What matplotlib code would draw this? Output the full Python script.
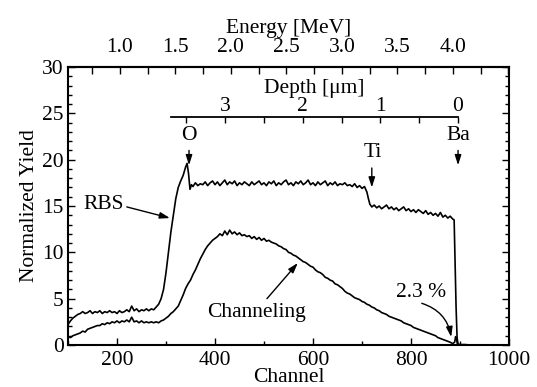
import numpy as np
import matplotlib
matplotlib.use("Agg")
import matplotlib.pyplot as plt
from matplotlib.ticker import MultipleLocator

plt.rcParams['font.family'] = ['Liberation Serif', 'DejaVu Serif']
FS = 15.5

# ---------------- data ----------------
rbs_ch = [100, 105, 110, 115, 120, 125, 130, 135, 140, 145, 150, 155, 160, 165, 170, 175,
          180, 185, 190, 195, 200, 205, 210, 215, 220, 225, 230, 235, 240, 245, 250, 255,
          260, 265, 270, 275, 280, 285, 290, 295, 300, 305, 310, 315, 320, 325, 330, 335,
          340, 343, 346, 349, 352,
          355, 360, 365, 370, 375, 380, 385, 390, 395, 400, 405, 410, 415, 420, 425, 430,
          435, 440, 445, 450, 455, 460, 465, 470, 475, 480, 485, 490, 495, 500, 505, 510,
          515, 520, 525, 530, 535, 540, 545, 550, 555, 560, 565, 570, 575, 580, 585, 590,
          595, 600, 605, 610, 615, 620, 625, 630, 635, 640, 645, 650, 655, 660, 665, 670,
          675, 680, 685, 690, 695, 700, 705, 710, 713, 716, 720,
          725, 730, 735, 740, 745, 750, 755, 760, 765, 770, 775, 780, 785, 790, 795, 800,
          805, 810, 815, 820, 825, 830, 835, 840, 845, 850, 855, 860, 865, 870, 875, 880,
          885, 888, 890, 892, 894, 896, 900, 910, 920]
rbs_y = [2.2, 2.6, 2.9, 3.1, 3.3, 3.4, 3.6, 3.4, 3.5, 3.7, 3.4, 3.6, 3.5, 3.7, 3.4, 3.6,
         3.5, 3.7, 3.5, 3.6, 3.4, 3.7, 3.5, 3.6, 3.8, 3.6, 4.2, 3.7, 3.9, 3.6, 3.8, 3.7,
         3.9, 3.7, 3.9, 3.8, 4.1, 4.4, 5.0, 6.0, 7.8, 10.0, 12.2, 14.0, 15.8, 17.0, 17.7, 18.3,
         19.2, 19.6, 18.5, 16.8, 17.3,
         17.1, 17.5, 17.2, 17.4, 17.3, 17.6, 17.2, 17.5, 17.7, 17.3, 17.6, 17.2, 17.5, 17.8, 17.3, 17.6,
         17.4, 17.7, 17.2, 17.5, 17.3, 17.6, 17.4, 17.2, 17.6, 17.3, 17.5, 17.7, 17.3, 17.5, 17.2, 17.6,
         17.4, 17.7, 17.2, 17.5, 17.3, 17.6, 17.8, 17.3, 17.5, 17.2, 17.6, 17.4, 17.7, 17.3, 17.5, 17.8,
         17.3, 17.5, 17.2, 17.6, 17.3, 17.5, 17.7, 17.2, 17.5, 17.3, 17.6, 17.2, 17.4, 17.3, 17.5, 17.2,
         17.3, 17.1, 17.4, 17.0, 17.2, 16.9, 17.1, 16.5, 15.8, 15.2, 14.9,
         15.1, 14.8, 15.0, 14.7, 14.9, 15.1, 14.7, 14.9, 14.6, 14.8, 14.5, 14.7, 14.9, 14.5, 14.7, 14.4,
         14.6, 14.3, 14.6, 14.4, 14.2, 14.5, 14.1, 14.3, 14.0, 14.2, 13.9, 14.3, 13.8, 14.0, 13.7, 13.9,
         13.6, 13.5, 9.0, 4.0, 0.8, 0.1, 0.05, 0.05, 0.0]

chan_ch = [100, 105, 110, 115, 120, 125, 130, 135, 140, 145, 150, 155, 160, 165, 170, 175,
           180, 185, 190, 195, 200, 205, 210, 215, 220, 225, 230, 235, 240, 245, 250, 255,
           260, 265, 270, 275, 280, 285, 290, 295, 300, 305, 310, 315, 320, 325, 330, 335,
           340, 345, 350, 355, 360, 365, 370, 375, 380, 385, 390, 395, 400, 405, 410, 415,
           420, 425, 430, 435, 440, 445, 450, 455, 460, 465, 470, 475, 480, 485, 490, 495,
           500, 505, 510, 515, 520, 525, 530, 535, 540, 545, 550, 555, 560, 565, 570, 575,
           580, 585, 590, 595, 600, 605, 610, 615, 620, 625, 630, 635, 640, 645, 650, 655,
           660, 665, 670, 675, 680, 685, 690, 695, 700, 705, 710, 715, 720, 725, 730, 735,
           740, 745, 750, 755, 760, 765, 770, 775, 780, 785, 790, 795, 800, 805, 810, 815,
           820, 825, 830, 835, 840, 845, 850, 855, 860, 865, 870, 875, 880, 885, 889, 891,
           893, 895]
chan_y = [0.9, 0.8, 1.0, 1.1, 1.2, 1.3, 1.5, 1.4, 1.7, 1.8, 1.9, 2.0, 2.1, 2.1, 2.3, 2.2,
          2.4, 2.3, 2.5, 2.4, 2.6, 2.4, 2.6, 2.5, 2.7, 2.5, 3.0, 2.5, 2.6, 2.4, 2.6, 2.4,
          2.5, 2.4, 2.5, 2.4, 2.5, 2.4, 2.6, 2.7, 2.9, 3.1, 3.4, 3.6, 3.9, 4.2, 4.8, 5.4,
          6.1, 6.6, 7.0, 7.6, 8.1, 8.7, 9.3, 9.8, 10.3, 10.7, 11.0, 11.3, 11.5, 11.7, 12.0, 11.8,
          12.3, 11.9, 12.4, 12.0, 12.2, 11.9, 12.1, 11.8, 11.9, 11.7, 11.8, 11.5, 11.7, 11.4, 11.6, 11.3,
          11.5, 11.2, 11.3, 11.1, 11.0, 10.9, 10.7, 10.6, 10.4, 10.3, 10.0, 9.9, 9.7, 9.6, 9.4, 9.2,
          9.0, 8.9, 8.7, 8.5, 8.4, 8.1, 7.9, 7.8, 7.6, 7.3, 7.2, 7.0, 6.9, 6.6, 6.5, 6.3,
          6.1, 5.8, 5.6, 5.5, 5.3, 5.1, 5.0, 4.9, 4.7, 4.6, 4.4, 4.3, 4.1, 4.0, 3.8, 3.7,
          3.5, 3.4, 3.3, 3.1, 3.0, 2.9, 2.8, 2.7, 2.6, 2.4, 2.3, 2.2, 2.1, 1.9, 1.8, 1.7,
          1.6, 1.5, 1.4, 1.3, 1.2, 1.1, 1.0, 0.8, 0.7, 0.6, 0.5, 0.4, 0.3, 0.15, 0.3, 0.9,
          0.6, 0.0]

x_ticks = [200, 400, 600, 800, 1000]
y_ticks = [0, 5, 10, 15, 20, 25, 30]
energy_ticks = [1.0, 1.5, 2.0, 2.5, 3.0, 3.5, 4.0]
depth_ticks = [0, 1, 2, 3]

# channel <-> energy / depth calibrations
E_ch0, E_per = 206.0, 226.5      # channel of 1.0 MeV, channels per MeV
D_ch0, D_per = 896.0, 158.5      # channel of depth 0, channels per um


def ch2E(c):
    return 1.0 + (np.asarray(c, dtype=float) - E_ch0) / E_per


def E2ch(e):
    return E_ch0 + (np.asarray(e, dtype=float) - 1.0) * E_per


# ---------------- figure ----------------
fig = plt.figure(figsize=(5.37, 3.87), dpi=100)
ax = fig.add_axes([0.1266, 0.1085, 0.8213, 0.7184])

ax.plot(rbs_ch, rbs_y, color='black', lw=1.2)
ax.plot(chan_ch, chan_y, color='black', lw=1.2)

ax.set_xlim(100, 1000)
ax.set_ylim(0, 30)
ax.set_xticks(x_ticks)
ax.set_yticks(y_ticks)
ax.xaxis.set_minor_locator(MultipleLocator(100))
ax.yaxis.set_minor_locator(MultipleLocator(1))
ax.tick_params(which='both', direction='in', top=False, right=True, labelsize=FS, width=1.0)
ax.tick_params(axis='x', which='major', length=5, pad=4)
ax.tick_params(axis='y', which='major', length=5, pad=3)
ax.tick_params(which='minor', length=3)
for s in ax.spines.values():
    s.set_linewidth(1.5)

ax.set_xlabel('Channel', fontsize=FS, labelpad=-1)
ax.set_ylabel('Normalized Yield', fontsize=FS, labelpad=2)

# top energy axis
sec = ax.secondary_xaxis('top', functions=(ch2E, E2ch))
sec.set_xticks(energy_ticks)
sec.set_xticklabels([f'{e:.1f}' for e in energy_ticks])
sec.xaxis.set_minor_locator(MultipleLocator(0.25))
sec.tick_params(which='both', direction='in', labelsize=FS, width=1.0, pad=7)
sec.tick_params(which='major', length=5)
sec.tick_params(which='minor', length=5)
sec.spines['top'].set_linewidth(1.5)
sec.set_xlabel('Energy [MeV]', fontsize=FS, labelpad=4)

# depth axis inside the plot
y_line = 24.55
d_left = (D_ch0 - 310.0) / D_per
dax = ax.inset_axes([310.0, y_line - 1.0, D_ch0 - 310.0, 1.0], transform=ax.transData)
dax.patch.set_visible(False)
for k in ['left', 'right', 'bottom']:
    dax.spines[k].set_visible(False)
dax.spines['top'].set_linewidth(1.3)
dax.set_xlim(d_left, 0)
dax.set_yticks([])
dax.xaxis.set_ticks_position('top')
dax.xaxis.set_label_position('top')
dax.set_xticks(depth_ticks)
dax.set_xticklabels([str(d) for d in depth_ticks])
dax.xaxis.set_minor_locator(MultipleLocator(0.5))
dax.tick_params(which='both', direction='in', labelsize=FS, width=1.0, pad=1)
dax.tick_params(which='major', length=4)
dax.tick_params(which='minor', length=4)
dax.set_xlabel('Depth [\u03bcm]', fontsize=FS, labelpad=3)

# element labels and arrows
arrow_kw = dict(arrowstyle='-|>,head_length=0.5,head_width=0.16', color='black',
                lw=1.0, shrinkA=0, shrinkB=0, mutation_scale=12)
ax.text(347, 22.65, 'O', fontsize=FS, ha='center', va='center')
ax.annotate('', xy=(347, 19.4), xytext=(347, 21.0), arrowprops=arrow_kw)
ax.text(722, 20.8, 'Ti', fontsize=FS, ha='center', va='center')
ax.annotate('', xy=(720, 17.0), xytext=(720, 19.1), arrowprops=arrow_kw)
ax.text(896, 22.65, 'Ba', fontsize=FS, ha='center', va='center')
ax.annotate('', xy=(896, 19.4), xytext=(896, 21.0), arrowprops=arrow_kw)

ax.text(173, 15.15, 'RBS', fontsize=FS, ha='center', va='center')
ax.annotate('', xy=(308, 13.7), xytext=(220, 14.9), arrowprops=arrow_kw)

ax.text(484, 3.56, 'Channeling', fontsize=FS, ha='center', va='center')
ax.annotate('', xy=(569, 8.85), xytext=(506, 5.0), arrowprops=arrow_kw)

ax.text(820, 5.7, '2.3 %', fontsize=FS, ha='center', va='center')
ax.annotate('', xy=(882, 0.86), xytext=(822, 4.5),
            arrowprops=dict(arrow_kw, connectionstyle='arc3,rad=-0.3'))

fig.savefig('out.png', dpi=100)
